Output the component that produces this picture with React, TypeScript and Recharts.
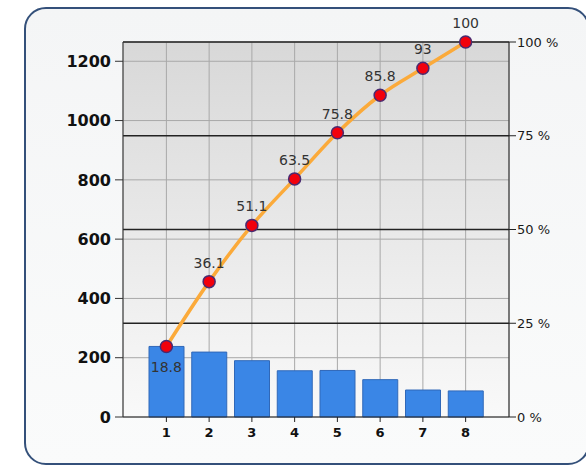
import React from 'react';
import {
  ComposedChart,
  Bar,
  Line,
  XAxis,
  YAxis,
  CartesianGrid,
  ReferenceLine,
  LabelList,
} from 'recharts';

const categories = ['1', '2', '3', '4', '5', '6', '7', '8'];
const counts = [238, 219, 190, 156, 157, 126, 91, 88];
const cumulativePct = [18.8, 36.1, 51.1, 63.5, 75.8, 85.8, 93, 100];
const countTicks = [0, 200, 400, 600, 800, 1000, 1200];
const pctTicks = [0, 25, 50, 75, 100];
const totalCount = 1265;

const data = categories.map((name, i) => ({
  name,
  count: counts[i],
  pct: cumulativePct[i],
}));

const PointDot = (props: any) => {
  const { cx, cy } = props;
  if (cx == null || cy == null) return null;
  return <circle cx={cx} cy={cy} r={6} fill="#f2000c" stroke="#4a2a70" strokeWidth={1.5} />;
};

const PctLabel = (props: any) => {
  const { x, y, value, index } = props;
  // first label sits under its point, the rest above
  const dy = index === 0 ? 25 : -14;
  return (
    <text
      x={x}
      y={y + dy}
      textAnchor="middle"
      fontSize={14}
      fontFamily="DejaVu Sans, sans-serif"
      fill="#333"
    >
      {value}
    </text>
  );
};

export default function App() {
  return (
    <div style={{ position: 'absolute', left: 0, top: 0, width: 586, height: 470, background: '#fff', overflow: 'hidden' }}>
      <div
        style={{
          position: 'absolute',
          left: 24,
          top: 7,
          width: 562,
          height: 454,
          border: '2px solid #34507a',
          borderRadius: 22,
          background: 'linear-gradient(#f4f5f6, #fafbfb)',
        }}
      />
      <div style={{ position: 'absolute', left: 0, top: 0 }}>
        <ComposedChart
          width={586}
          height={470}
          data={data}
          margin={{ top: 42, right: 0, bottom: 23, left: 0 }}
          barSize={35}
        >
          <defs>
            <linearGradient id="plotBg" x1="0" y1="0" x2="0" y2="1">
              <stop offset="0%" stopColor="#d8d8d8" />
              <stop offset="100%" stopColor="#f9f9f9" />
            </linearGradient>
          </defs>
          <CartesianGrid
            yAxisId="left"
            stroke="#a8a8a8"
            fill="url(#plotBg)"
            fillOpacity={1}
          />
          <XAxis
            dataKey="name"
            height={30}
            padding={{ left: 22, right: 22 }}
            stroke="#222"
            tickSize={5}
            tickMargin={6}
            tick={{ fill: '#111', fontSize: 13, fontWeight: 'bold', fontFamily: 'DejaVu Sans, sans-serif' }}
          />
          <YAxis
            yAxisId="left"
            orientation="left"
            width={123}
            domain={[0, totalCount]}
            ticks={countTicks}
            interval={0}
            stroke="#333"
            tickSize={8}
            tickMargin={4}
            tick={{ fill: '#111', fontSize: 16, fontWeight: 'bold', fontFamily: 'DejaVu Sans, sans-serif' }}
          />
          <YAxis
            yAxisId="right"
            orientation="right"
            width={77}
            domain={[0, 100]}
            ticks={pctTicks}
            interval={0}
            stroke="#222"
            tickSize={7}
            tickMargin={1}
            tickFormatter={(v: number) => `${v} %`}
            tick={{ fill: '#1a1a1a', fontSize: 13, fontFamily: 'DejaVu Sans, sans-serif', textAnchor: 'start' }}
          />
          <ReferenceLine yAxisId="right" y={25} stroke="#222" strokeWidth={1.3} />
          <ReferenceLine yAxisId="right" y={50} stroke="#222" strokeWidth={1.3} />
          <ReferenceLine yAxisId="right" y={75} stroke="#222" strokeWidth={1.3} />
          <ReferenceLine yAxisId="right" y={100} stroke="#222" strokeWidth={1.3} />
          <Bar
            yAxisId="left"
            dataKey="count"
            fill="#3a86e6"
            stroke="#3068b8"
            strokeWidth={1}
            isAnimationActive={false}
          />
          <Line
            yAxisId="right"
            dataKey="pct"
            type="monotone"
            stroke="#fbaa3a"
            strokeWidth={3.5}
            dot={<PointDot />}
            activeDot={false}
            isAnimationActive={false}
          >
            <LabelList dataKey="pct" content={<PctLabel />} />
          </Line>
        </ComposedChart>
      </div>
    </div>
  );
}
